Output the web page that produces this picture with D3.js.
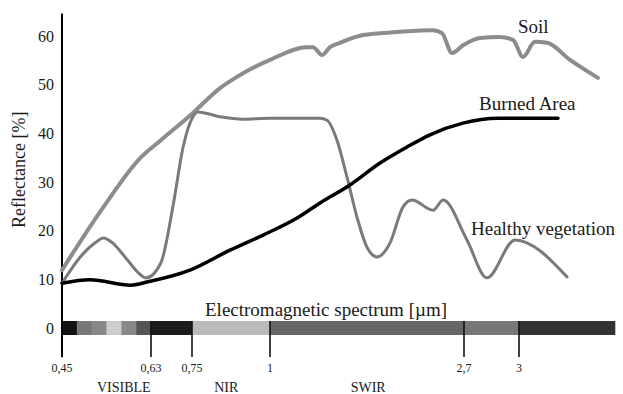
<!DOCTYPE html>
<html>
<head>
<meta charset="utf-8">
<script src="https://cdn.jsdelivr.net/npm/d3@7.9.0/dist/d3.min.js"></script>
<style>
  body { margin: 0; background: #fff; }
  text { font-family: "Liberation Serif", "DejaVu Serif", serif; fill: #1a1a1a; }
</style>
</head>
<body>
<svg id="chart" width="623" height="394"></svg>
<script>
// wavelength (µm) and reflectance (%)
const soilUm = [0.45, 0.534, 0.610, 0.659, 0.753, 0.84, 0.894, 1.0, 1.324, 1.377, 1.456, 1.526, 1.613, 1.815, 2.113, 2.428, 2.507, 2.595, 2.691, 2.787, 2.896, 2.967, 3.021, 3.083, 3.146, 3.266, 3.411];
const soilRefl = [11.9, 24.9, 35.1, 38.6, 44.2, 49.3, 51.6, 55.1, 57.7, 57.7, 56.1, 57.7, 58.6, 60.2, 60.8, 61.2, 60.6, 56.5, 58.1, 59.6, 59.8, 59.2, 55.7, 58.8, 58.6, 55.1, 51.4];

const vegUm = [0.45, 0.487, 0.517, 0.534, 0.552, 0.579, 0.603, 0.620, 0.659, 0.696, 0.724, 0.753, 0.769, 0.84, 0.913, 1.0, 1.438, 1.5, 1.587, 1.675, 1.762, 1.850, 1.938, 2.052, 2.166, 2.245, 2.429, 2.517, 2.716, 2.825, 2.978, 3.25];
const vegRefl = [9.2, 14.6, 17.5, 18.5, 17.5, 14.4, 11.5, 10.3, 13.4, 25.7, 37.2, 43.4, 44.4, 43.4, 42.9, 43.1, 43.1, 42.7, 38.6, 31.0, 22.8, 16.6, 14.6, 17.5, 24.9, 26.3, 24.2, 26.3, 18.1, 10.3, 18.1, 10.5];

const burnUm = [0.45, 0.507, 0.589, 0.624, 0.744, 0.872, 0.978, 1.237, 1.438, 1.701, 1.964, 2.201, 2.402, 2.691, 2.885, 3.203];
const burnRefl = [9.2, 9.9, 8.8, 9.5, 11.9, 16.0, 19.1, 22.6, 25.7, 29.4, 33.9, 37.2, 39.7, 42.1, 43.1, 43.1];

const yTicks = [0, 10, 20, 30, 40, 50, 60];
const xTicks = [0.45, 0.63, 0.75, 1, 2.7, 3];
const xTickLabels = ["0,45", "0,63", "0,75", "1", "2,7", "3"];

const bandEdges = [0.45, 0.48, 0.51, 0.54, 0.57, 0.60, 0.63, 0.75, 1, 2.7, 3, 3.5];
const bandColors = ["#111", "#777", "#888", "#cdcdcd", "#888", "#555", "#1c1c1c", "#bababa", "#666", "#777", "#333"];

const regionNames = ["VISIBLE", "NIR", "SWIR"];
const regionCenters = [0.575, 0.86, 1.86];

const svg = d3.select('#chart');

// the spectrum axis is stretched piecewise, like in the figure
const x = d3.scaleLinear()
    .domain([0.45, 0.63, 0.75, 1, 2.7, 3, 3.5])
    .range([62, 151, 192, 270, 464, 519, 615]);

const y = d3.scaleLinear()
    .domain([0, 60])
    .range([328, 36]);

// spectrum bar
svg.append('g').selectAll('rect')
    .data(bandColors)
    .join('rect')
    .attr('x', (d, i) => x(bandEdges[i]))
    .attr('width', (d, i) => x(bandEdges[i + 1]) - x(bandEdges[i]) + 0.3)
    .attr('y', 321)
    .attr('height', 14)
    .attr('fill', d => d);

// tick marks under the bar
svg.append('g').selectAll('line')
    .data(xTicks.slice(1))
    .join('line')
    .attr('x1', d => x(d)).attr('x2', d => x(d))
    .attr('y1', 321).attr('y2', 357)
    .attr('stroke', '#111')
    .attr('stroke-width', 1.6);

svg.append('g').selectAll('text')
    .data(xTicks)
    .join('text')
    .attr('x', d => x(d))
    .attr('y', 372)
    .attr('text-anchor', 'middle')
    .style('font-size', '12px')
    .text((d, i) => xTickLabels[i]);

svg.append('g').selectAll('text')
    .data(regionNames)
    .join('text')
    .attr('x', (d, i) => x(regionCenters[i]))
    .attr('y', 392)
    .attr('text-anchor', 'middle')
    .style('font-size', '14px')
    .text(d => d);

// y axis
const yAxis = svg.append('g')
    .attr('transform', 'translate(54,0)')
    .call(d3.axisLeft(y).tickValues(yTicks).tickSize(0).tickPadding(0));
yAxis.attr('font-family', null);
yAxis.select('.domain').remove();
yAxis.selectAll('text')
    .style('font-size', '16px')
    .attr('fill', '#222');

svg.append('line')
    .attr('x1', 62).attr('x2', 62)
    .attr('y1', y(64.6)).attr('y2', y(-6))
    .attr('stroke', '#000')
    .attr('stroke-width', 2);

svg.append('text')
    .attr('transform', `translate(25,${y(32.5)}) rotate(-90)`)
    .attr('text-anchor', 'middle')
    .style('font-size', '18px')
    .text('Reflectance [%]');

svg.append('text')
    .attr('x', 205)
    .attr('y', 316)
    .style('font-size', '19px')
    .text('Electromagnetic spectrum [\u00b5m]');

// curves
const line = d3.line()
    .x(d => x(d[0]))
    .y(d => y(d[1]))
    .curve(d3.curveMonotoneX);

const series = [
    { um: soilUm, refl: soilRefl, color: '#8c8c8c', width: 4 },
    { um: vegUm, refl: vegRefl, color: '#7a7a7a', width: 3 },
    { um: burnUm, refl: burnRefl, color: '#000', width: 3.5 }
];

svg.append('g').selectAll('path')
    .data(series)
    .join('path')
    .attr('d', s => line(d3.zip(s.um, s.refl)))
    .attr('fill', 'none')
    .attr('stroke', s => s.color)
    .attr('stroke-width', s => s.width)
    .attr('stroke-linejoin', 'round')
    .attr('stroke-linecap', 'round');

// series labels
svg.append('text').attr('x', 518).attr('y', 33).style('font-size', '19px').text('Soil');
svg.append('text').attr('x', 479).attr('y', 110).style('font-size', '19px').text('Burned Area');
svg.append('text').attr('x', 471).attr('y', 235).style('font-size', '19px').text('Healthy vegetation');
</script>
</body>
</html>
